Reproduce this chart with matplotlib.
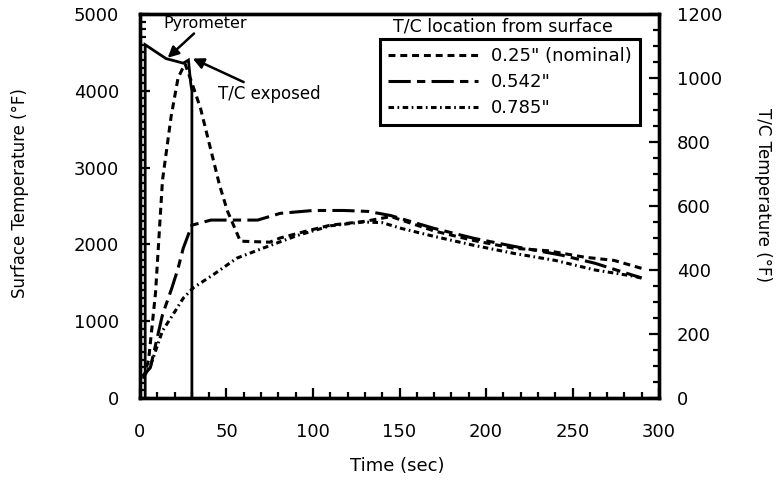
import numpy as np
import matplotlib.pyplot as plt
from matplotlib.ticker import MultipleLocator

plt.rcParams['font.family'] = ['DejaVu Sans']
plt.rcParams['lines.scale_dashes'] = False

# pyrometer (surface temperature, left axis)
pyro_t = [3, 3, 15, 25, 28, 29.3, 30, 30]
pyro_T = [0, 4600, 4420, 4360, 4400, 4100, 4000, 0]

# thermocouples (right axis)
tc1_t = [2, 5, 9, 13, 18, 22, 26, 30, 35, 46, 50.5, 58, 75, 81, 95, 110, 130, 145,
         170, 193, 216, 236, 257, 274, 290]
tc1_T = [60, 120, 330, 680, 880, 1000, 1045, 985, 905, 665, 585, 490, 487, 500, 520,
         540, 552, 567, 522, 492, 468, 460, 440, 430, 405]

tc2_t = [2, 6, 13, 18.5, 22, 25, 30, 41, 58, 68, 81, 100, 118, 132, 145, 170, 193,
         216, 244, 263, 290]
tc2_T = [70, 95, 260, 345, 405, 468, 540, 556, 556, 556, 577, 586, 586, 583, 570,
         530, 499, 474, 446, 421, 375]

tc3_t = [2, 6, 13, 19, 25, 31, 42, 56, 71, 91, 110, 129, 140, 151, 170, 193, 216,
         240, 263, 286, 291]
tc3_T = [65, 100, 210, 260, 312, 345, 384, 437, 468, 508, 538, 550, 548, 530, 505,
         477, 452, 430, 400, 380, 373]

fig = plt.figure(figsize=(7.79, 4.83), dpi=100)
ax = fig.add_axes([0.1797, 0.176, 0.6663, 0.795])
ax2 = ax.twinx()

ax.plot(pyro_t, pyro_T, color='black', lw=2.0, solid_joinstyle='miter')

l1, = ax2.plot(tc1_t, tc1_T, color='black', lw=2.2, linestyle=(0, (5, 3.5)))
l2, = ax2.plot(tc2_t, tc2_T, color='black', lw=2.2, linestyle=(0, (16, 4.5, 6, 4.5)))
l3, = ax2.plot(tc3_t, tc3_T, color='black', lw=2.2, linestyle=(0, (4, 2.5, 1.2, 2.5)))

ax.set_xlim(0, 300)
ax.set_ylim(0, 5000)
ax2.set_ylim(0, 1200)

ax.xaxis.set_major_locator(MultipleLocator(50))
ax.xaxis.set_minor_locator(MultipleLocator(10))
ax.yaxis.set_major_locator(MultipleLocator(1000))
ax.yaxis.set_minor_locator(MultipleLocator(100))
ax2.yaxis.set_major_locator(MultipleLocator(200))
ax2.yaxis.set_minor_locator(MultipleLocator(50))

ax.tick_params(axis='both', which='both', direction='in', width=1.6, labelsize=13)
ax.tick_params(axis='both', which='major', length=7)
ax.tick_params(axis='both', which='minor', length=4)
ax.tick_params(axis='y', pad=15)
ax.tick_params(axis='x', pad=18)
ax2.tick_params(axis='y', which='both', direction='in', width=1.6, labelsize=13, pad=13)
ax2.tick_params(axis='y', which='major', length=7)
ax2.tick_params(axis='y', which='minor', length=4)

for a in (ax, ax2):
    for s in a.spines.values():
        s.set_linewidth(2.4)

ax.set_xlabel('Time (sec)', fontsize=13, va='center')
ax.xaxis.set_label_coords(0.495, -0.177)
ax.set_ylabel('Surface Temperature (°F)', fontsize=12, va='center')
ax.yaxis.set_label_coords(-0.231, 0.534)
ax2.set_ylabel('T/C Temperature (°F)', fontsize=12, rotation=270, va='center')
ax2.yaxis.set_label_coords(1.2004, 0.529)

ax.annotate('Pyrometer', xy=(16, 4430), xytext=(13.5, 4880), fontsize=11.5,
            va='center', ha='left',
            arrowprops=dict(arrowstyle='-|>', color='black', lw=1.8,
                            mutation_scale=16, shrinkA=0, shrinkB=0))
ax.annotate('T/C exposed', xy=(30.5, 4420), xytext=(45, 3960), fontsize=12,
            va='center', ha='left',
            arrowprops=dict(arrowstyle='-|>', color='black', lw=1.8,
                            mutation_scale=16, shrinkA=0, shrinkB=0))

ax2.text(0.70, 0.99, 'T/C location from surface', transform=ax2.transAxes,
         fontsize=12.5, ha='center', va='top')
leg = ax2.legend([l1, l2, l3], ['0.25" (nominal)', '0.542"', '0.785"'],
                 loc='upper right', bbox_to_anchor=(0.963, 0.935),
                 fontsize=13, handlelength=5.0, handletextpad=0.7,
                 labelspacing=0.45, borderpad=0.45, borderaxespad=0,
                 fancybox=False, framealpha=1, edgecolor='black')
leg.get_frame().set_linewidth(2.2)

plt.savefig('out.png', dpi=100)
plt.close()
